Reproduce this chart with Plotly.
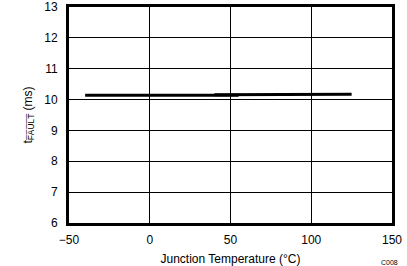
import plotly.graph_objects as go

# Data
temp_a = [-40, -32, -30, -25, -20, 0, 25, 40, 55]
tfault_a = [10.14, 10.14, 10.16, 10.14, 10.15, 10.14, 10.14, 10.15, 10.14]
temp_b = [40, 50, 60, 85, 100, 125]
tfault_b = [10.16, 10.16, 10.16, 10.16, 10.16, 10.17]

x_ticks = [-50, 0, 50, 100, 150]
y_ticks = [6, 7, 8, 9, 10, 11, 12, 13]

fig = go.Figure()
fig.add_trace(go.Scatter(x=temp_a, y=tfault_a, mode="lines",
                         line=dict(color="black", width=3), showlegend=False))
fig.add_trace(go.Scatter(x=temp_b, y=tfault_b, mode="lines",
                         line=dict(color="black", width=3), showlegend=False))

font = dict(family="Liberation Sans, Arial, sans-serif", size=12, color="black")
fig.update_layout(
    width=407, height=266,
    margin=dict(l=69, r=15, t=7, b=43),
    paper_bgcolor="white", plot_bgcolor="white",
    font=font,
    xaxis=dict(range=[-50, 150], tickvals=x_ticks, ticktext=["\u221250", "0", "50", "100", "150"],
               showgrid=True, gridcolor="black", gridwidth=1,
               showline=True, linecolor="black", linewidth=3, mirror=True,
               zeroline=False, ticks="", ticklen=0, automargin=False,
               ticklabelstandoff=4, ticklabeloverflow="allow",
               title=dict(text="Junction Temperature (\u00b0C)", standoff=12, font=font)),
    yaxis=dict(range=[6, 13], tickvals=y_ticks,
               showgrid=True, gridcolor="black", gridwidth=1,
               showline=True, linecolor="black", linewidth=3, mirror=True,
               zeroline=False, ticks="", ticklen=0, automargin=False,
               ticklabelstandoff=6, ticklabeloverflow="allow",
               title=dict(text="t<sub>F\u0305A\u0305U\u0305L\u0305T\u0305</sub> (ms)", standoff=10, font=font)),
    annotations=[dict(text="C008", x=1.0, y=0, xref="paper", yref="paper",
                      xanchor="right", yanchor="top", yshift=-34, xshift=8,
                      showarrow=False, font=dict(family="Liberation Sans, Arial", size=7, color="black"))],
)
fig.write_html("out.html")
